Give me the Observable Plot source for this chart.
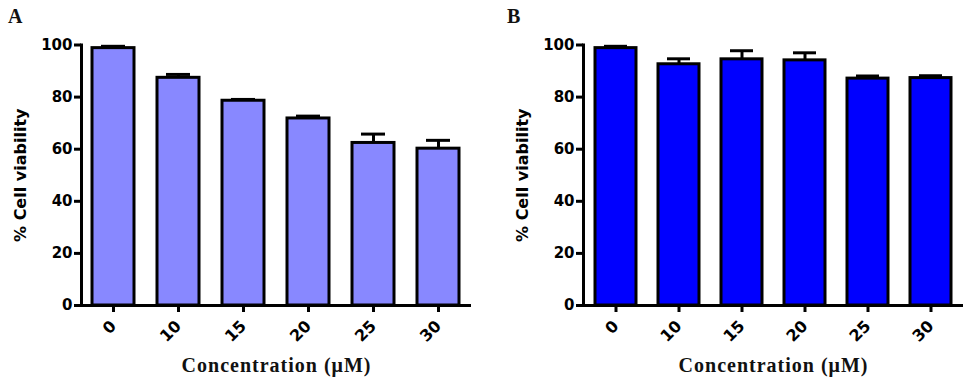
<!DOCTYPE html>
<html><head><meta charset="utf-8">
<script src="https://cdn.jsdelivr.net/npm/d3@7"></script>
<script src="https://cdn.jsdelivr.net/npm/@observablehq/plot@0.6"></script>
<style>
body{margin:0;background:#fff;}
#wrap{position:relative;width:979px;height:381px;overflow:hidden;background:#fff;}
.panel{position:absolute;top:0;}
.tag{position:absolute;font-family:"Liberation Serif",serif;font-weight:bold;font-size:20px;line-height:1;color:#111;}
</style></head><body>
<div id="wrap">
  <div id="pa" class="panel" style="left:0px"></div>
  <div id="pb" class="panel" style="left:490px"></div>
  <div class="tag" style="left:8px;top:6px">A</div>
  <div class="tag" style="left:507px;top:6px">B</div>
</div>
<script>
const concentrations = ["0", "10", "15", "20", "25", "30"];
const viabilityA = [98.8, 87.4, 78.6, 71.8, 62.4, 60.2];
const errorA = [0.7, 1.3, 0.5, 0.9, 3.4, 3.2];
const viabilityB = [98.8, 92.6, 94.5, 94.1, 87.1, 87.3];
const errorB = [0.7, 2.1, 3.3, 2.9, 1.0, 0.9];
const yTicks = [0, 20, 40, 60, 80, 100];
const yLabel = "% Cell viability";
const xLabel = "Concentration (\u03bcM)";
const fillA = "#8888ff";
const fillB = "#0000ff";

function panel(values, errors, fill, width, marginLeft, marginRight) {
  const rows = concentrations.map((c, i) => ({c, v: values[i], e: errors[i], top: values[i] + errors[i]}));
  const svg = Plot.plot({
    width, height: 381,
    marginLeft, marginRight, marginTop: 44.5, marginBottom: 76,
    x: {domain: concentrations, paddingInner: 0.35, paddingOuter: 0.175, label: null},
    y: {domain: [0, 100], label: null},
    style: {fontFamily: "DejaVu Sans", background: "white", color: "black"},
    marks: [
      Plot.barY(rows, {x: "c", y: "v", fill, stroke: "black", strokeWidth: 3}),
      Plot.ruleX(rows, {x: "c", y1: "v", y2: "top", stroke: "black", strokeWidth: 3}),
      Plot.tickY(rows, {x: "c", y: "top", stroke: "black", strokeWidth: 3, insetLeft: 9, insetRight: 9}),
      Plot.frame({anchor: "left", stroke: "black", strokeWidth: 3}),
      Plot.ruleY([0], {stroke: "black", strokeWidth: 3}),
      Plot.axisY({ticks: yTicks, tickSize: 7, tickPadding: 2, strokeWidth: 3, fontSize: 15, fontWeight: "bold", label: null}),
      Plot.axisX({tickSize: 7, tickPadding: 11, tickRotate: -45, strokeWidth: 3, fontSize: 16, fontWeight: "bold", label: null}),
      Plot.text([yLabel], {frameAnchor: "left", dx: -61, rotate: -90, text: d => d, fontSize: 16, fontWeight: "bold", textAnchor: "middle", lineAnchor: "middle"}),
      Plot.text([xLabel], {frameAnchor: "bottom", dy: 60, text: d => d, fontSize: 20, fontWeight: "bold", fontFamily: "Liberation Serif", textAnchor: "middle", lineAnchor: "middle", fill: "#111"})
    ]
  });
  d3.select(svg).selectAll("text").filter(function() { return this.textContent === xLabel; })
    .style("letter-spacing", "1px");
  return svg;
}

document.getElementById("pa").append(panel(viabilityA, errorA, fillA, 490, 81, 19));
document.getElementById("pb").append(panel(viabilityB, errorB, fillB, 489, 93, 16));
</script>
</body></html>
